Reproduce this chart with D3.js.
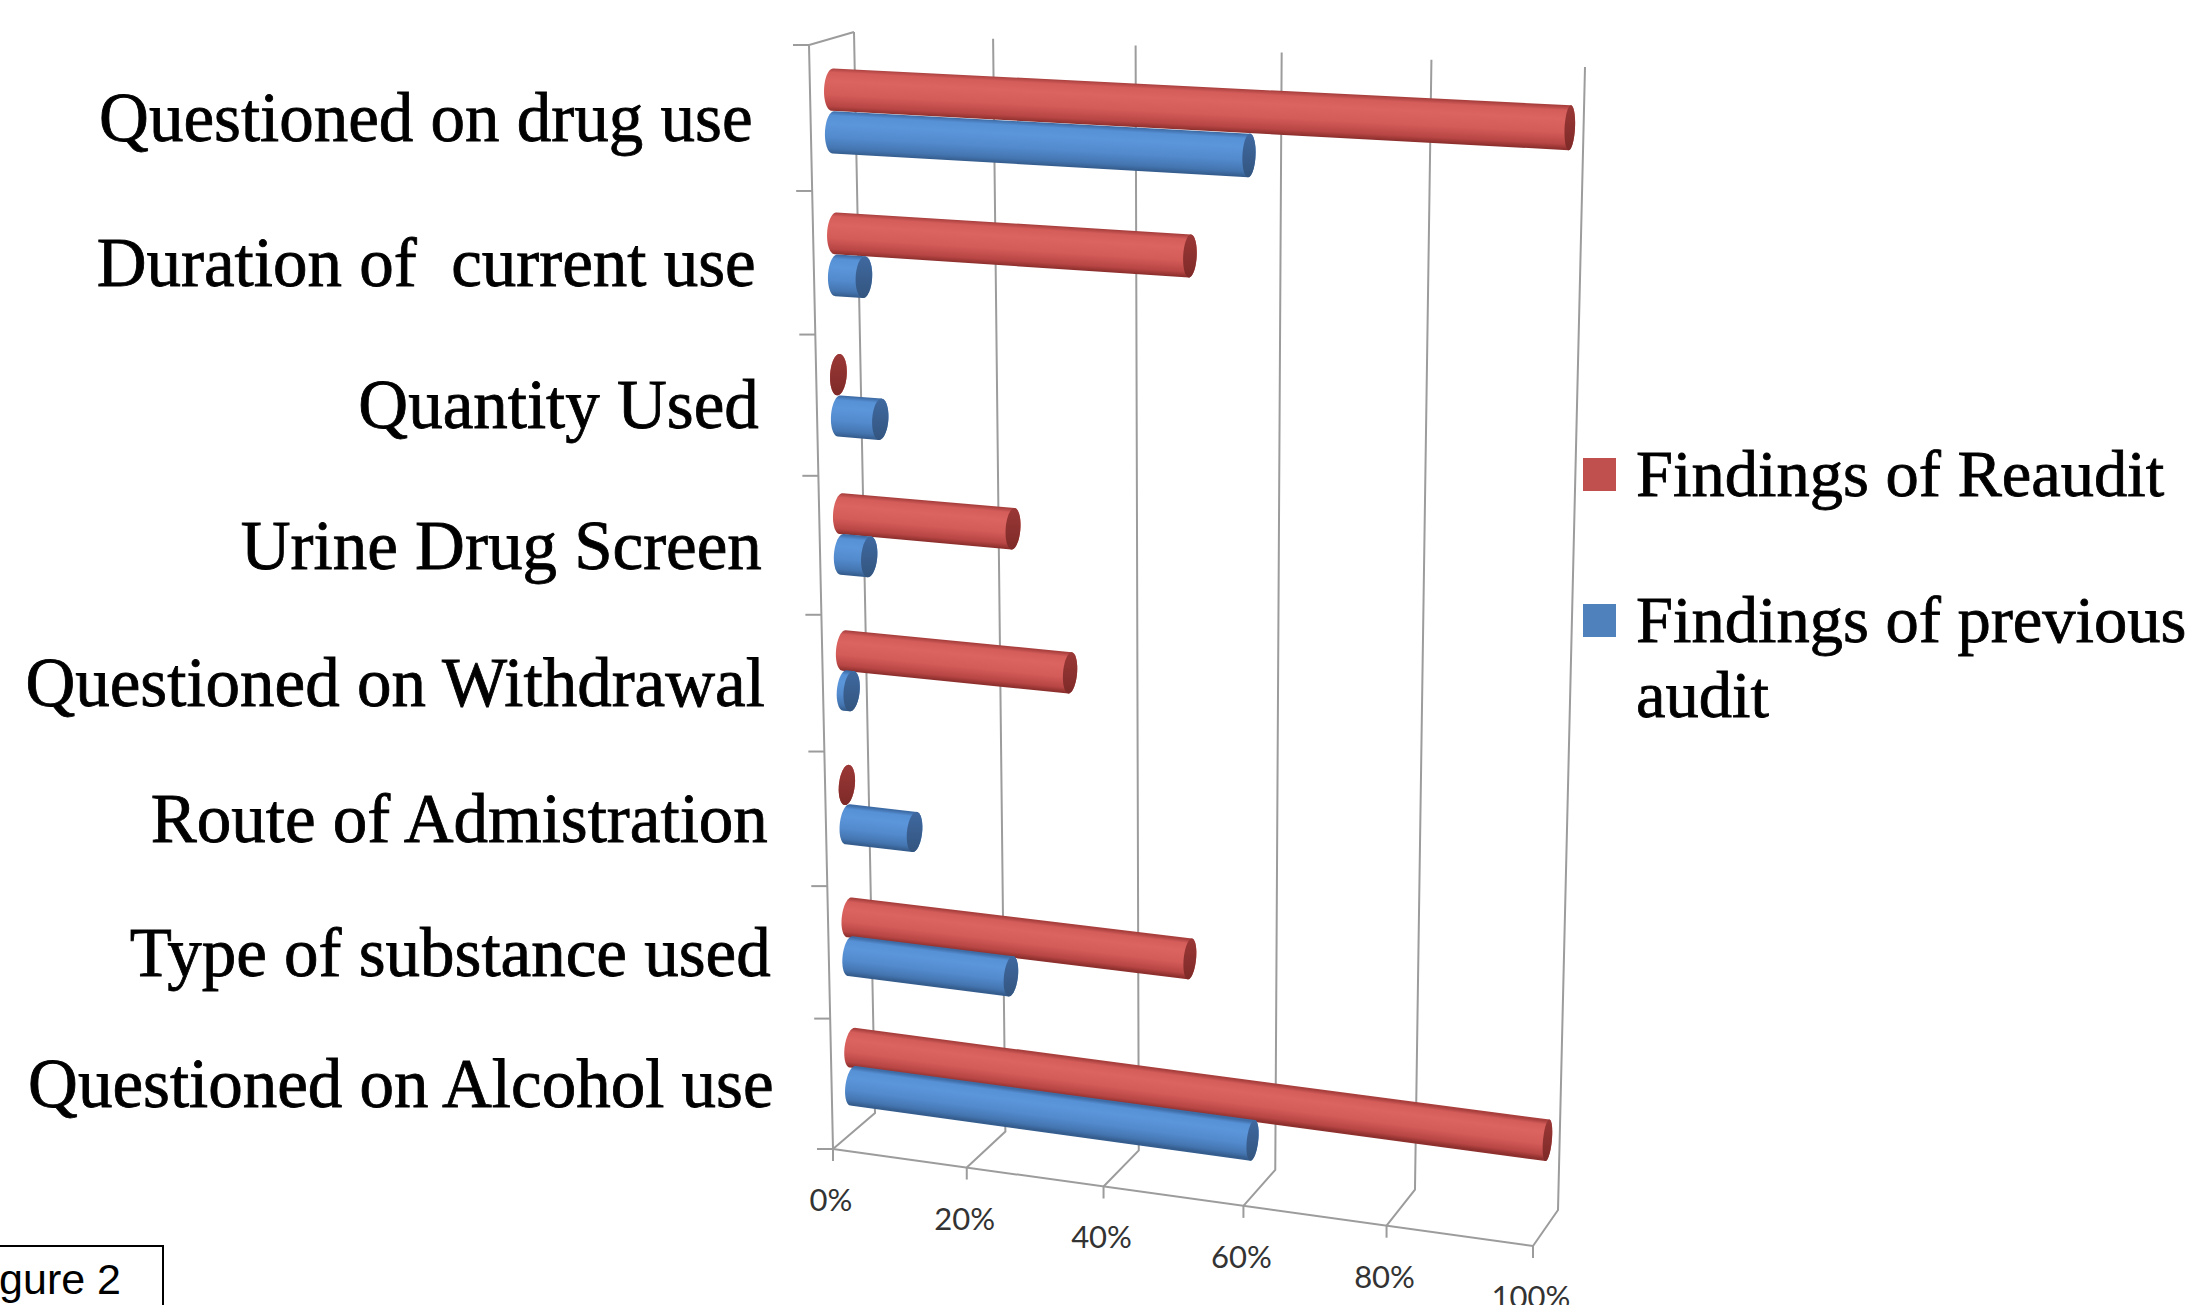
<!DOCTYPE html>
<html><head><meta charset="utf-8">
<script src="https://cdn.jsdelivr.net/npm/d3@7"></script>
<style>html,body{margin:0;padding:0;background:#fff;overflow:hidden}</style>
</head><body><svg id="chart" width="2195" height="1305"></svg>
<script>
// ---- data ----
const categories = ["Questioned on drug use","Duration of  current use","Quantity Used","Urine Drug Screen","Questioned on Withdrawal","Route of Admistration","Type of substance used","Questioned on Alcohol use"];
const reaudit = [100,50,0,25,33,0,50,100];
const previous = [58,4,6,4,1,10,24,59];
const seriesNames = ["Findings of Reaudit","Findings of previous audit"];
const tickValues = [0,20,40,60,80,100];
const tickLabels = ["0%","20%","40%","60%","80%","100%"];

// ---- projection (3-D box: u value, v vertical, z depth) ----
function sq2quad(p0,p1,p2,p3){
  const [x0,y0]=p0,[x1,y1]=p1,[x2,y2]=p2,[x3,y3]=p3;
  const dx1=x1-x2, dx2=x3-x2, dx3=x0-x1+x2-x3;
  const dy1=y1-y2, dy2=y3-y2, dy3=y0-y1+y2-y3;
  const den=dx1*dy2-dx2*dy1;
  const g=(dx3*dy2-dx2*dy3)/den, h=(dx1*dy3-dx3*dy1)/den;
  const a=x1-x0+g*x1, b=x3-x0+h*x3, c=x0, d=y1-y0+g*y1, e=y3-y0+h*y3, f=y0;
  return (u,v)=>{const w=g*u+h*v+1; return [(a*u+b*v+c)/w,(d*u+e*v+f)/w];};
}
const backQ = sq2quad([854,32],[1585,67],[1558,1210],[875,1113]);
const frontQ = sq2quad([809,45],[1557,80],[1533,1246],[833,1149]);
function P(u,v,z){const f=frontQ(u,v), b=backQ(u,v); return [f[0]+(b[0]-f[0])*z, f[1]+(b[1]-f[1])*z];}

const svg = d3.select("#chart");
const x = d3.scaleLinear().domain([0,100]).range([0,1]);
const y = d3.scaleBand().domain(categories).range([0,1]);
const ys = d3.scaleBand().domain(seriesNames).range([0,y.bandwidth()]).paddingInner(0.02).paddingOuter(0.70);
const color = d3.scaleOrdinal().domain(seriesNames).range(["#C0504D","#4F81BD"]);
const stops = {
  "Findings of Reaudit":[[0,"#a9403e"],[0.1,"#d45d5a"],[0.3,"#db6360"],[0.62,"#d35b58"],[0.88,"#b84644"],[1,"#8e302e"]],
  "Findings of previous audit":[[0,"#3e6ca6"],[0.1,"#5690d5"],[0.3,"#5c96da"],[0.62,"#528acd"],[0.88,"#4475b0"],[1,"#355d8e"]]
};
const capStops = {
  "Findings of Reaudit":[[0,"#9a3836"],[1,"#7e2a28"]],
  "Findings of previous audit":[[0,"#4069a0"],[1,"#33557f"]]
};

const line = d3.line();
const grid = svg.append("g").attr("stroke","#9c9c9c").attr("stroke-width",2).attr("fill","none");
tickValues.forEach(t=>{
  const u=x(t);
  grid.append("path").attr("d",line([P(u,0,1),P(u,1,1),P(u,1,0)]));
  const f=P(u,1,0);
  grid.append("path").attr("d",line([f,[f[0],f[1]+12]]));
});
grid.append("path").attr("d",line([P(0,1,0),P(1,1,0)]));
grid.append("path").attr("d",line([P(0,0,1),P(0,0,0),P(0,1,0)]));
d3.range(categories.length+1).forEach(i=>{
  const p=P(0,i/categories.length,0);
  grid.append("path").attr("d",line([[p[0]-16,p[1]],p]));
});

// tick labels
svg.append("g").selectAll("text").data(tickValues).join("text")
  .attr("x",(t)=>P(x(t),1,0)[0]-2).attr("y",(t)=>P(x(t),1,0)[1]+62)
  .attr("text-anchor","middle").attr("font-family","Lato, 'Open Sans', sans-serif").attr("font-size",31).attr("fill","#333")
  .text((t,i)=>tickLabels[i]);

// category labels
svg.append("g").selectAll("text").data(categories).join("text")
  .attr("x",c=>P(0,y(c)+y.bandwidth()/2,0)[0]-58)
  .attr("y",c=>P(0,y(c)+y.bandwidth()/2,0)[1]+23)
  .attr("text-anchor","end").attr("font-family","'Liberation Serif', serif").attr("font-size",69)
  .attr("stroke","#000").attr("stroke-width",0.8)
  .style("white-space","pre").attr("fill","#000").text(c=>c);

// bars (cylinders)
const defs = svg.append("defs");
const bars = svg.append("g");
const zc=0.5, rz=0.19;
const rows=[];
categories.forEach((c,i)=>{
  [[seriesNames[0],reaudit[i]],[seriesNames[1],previous[i]]].forEach(([s,val])=>rows.push({c,s,val}));
});
rows.forEach((d,k)=>{
  const vc=y(d.c)+ys(d.s)+ys.bandwidth()/2, rv=ys.bandwidth()/2;
  const cap=(u)=>d3.range(0,72).map(j=>{const a=j/72*2*Math.PI;return P(u,vc+rv*Math.cos(a),zc+rz*Math.sin(a));});
  const u1=x(d.val);
  const L=cap(0), R=cap(u1);
  const hull=d3.polygonHull(L.concat(R));
  const a0=P(0,vc,zc), a1=P(1,vc,zc);
  let dx=a1[0]-a0[0], dy=a1[1]-a0[1]; const len=Math.hypot(dx,dy); dx/=len; dy/=len;
  const n=[-dy,dx];
  const um=u1/2, mid=P(um,vc,zc), bot=P(um,vc+rv,zc);
  const ext=Math.abs((bot[0]-mid[0])*n[0]+(bot[1]-mid[1])*n[1]);
  const id="g"+k;
  const gr=defs.append("linearGradient").attr("id",id).attr("gradientUnits","userSpaceOnUse")
    .attr("x1",mid[0]-n[0]*ext).attr("y1",mid[1]-n[1]*ext).attr("x2",mid[0]+n[0]*ext).attr("y2",mid[1]+n[1]*ext);
  stops[d.s].forEach(([o,c])=>gr.append("stop").attr("offset",o).attr("stop-color",c));
  const cid="c"+k;
  const cg=defs.append("linearGradient").attr("id",cid).attr("x1",0).attr("y1",0).attr("x2",0).attr("y2",1);
  capStops[d.s].forEach(([o,c])=>cg.append("stop").attr("offset",o).attr("stop-color",c));
  bars.append("path").attr("d","M"+hull.join("L")+"Z").attr("fill","url(#"+id+")");
  bars.append("path").attr("d","M"+R.join("L")+"Z").attr("fill","url(#"+cid+")");
});

// legend
const lg=svg.append("g");
const legendRows=[{s:seriesNames[0],lines:["Findings of Reaudit"],y:496},{s:seriesNames[1],lines:["Findings of previous","audit"],y:642}];
legendRows.forEach(r=>{
  lg.append("rect").attr("x",1583).attr("y",r.y-38).attr("width",33).attr("height",33).attr("fill",color(r.s));
  const t=lg.append("text").attr("x",1636).attr("y",r.y).attr("font-family","'Liberation Serif', serif").attr("font-size",66.5)
    .attr("stroke","#000").attr("stroke-width",0.8).attr("fill","#000");
  r.lines.forEach((l,i)=>t.append("tspan").attr("x",1636).attr("dy",i?75:0).text(l));
});

// figure caption box
svg.append("rect").attr("x",-40).attr("y",1246).attr("width",203).attr("height",100).attr("fill","none").attr("stroke","#000").attr("stroke-width",2);
svg.append("text").attr("x",121).attr("y",1294).attr("text-anchor","end").attr("font-family","'Liberation Sans', Arial, sans-serif").attr("font-size",43).attr("fill","#000").text("Figure 2");
</script></body></html>
